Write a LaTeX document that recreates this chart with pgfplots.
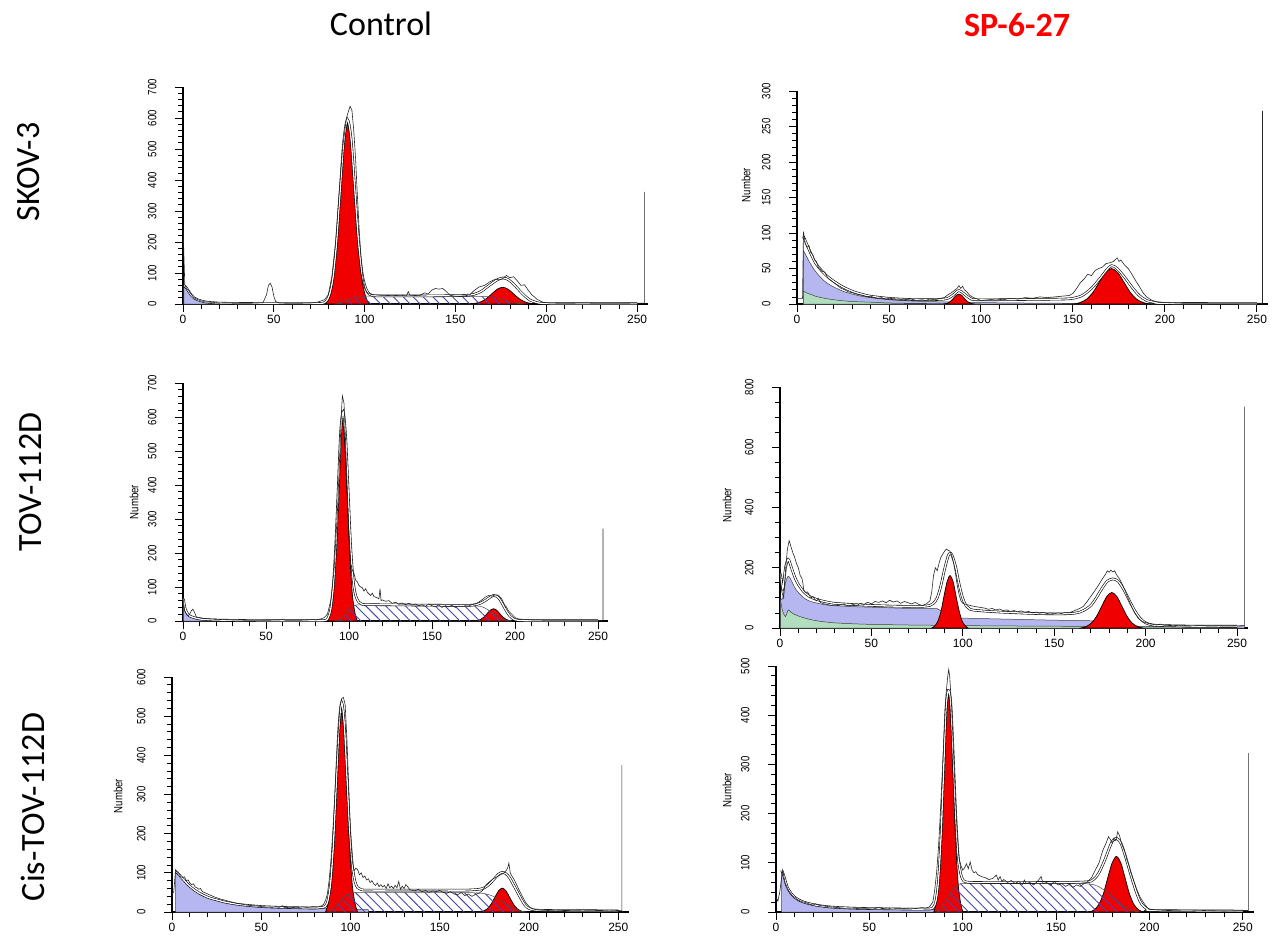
\documentclass[border=0pt]{standalone}
\usepackage{fontspec}
\setmainfont{Liberation Sans}
\newfontfamily\carl{Carlito}
\newfontfamily\narrow{Liberation Sans}[FakeStretch=0.8]
\usepackage{pgfplots}
\pgfplotsset{compat=1.18}
\usetikzlibrary{patterns.meta}

\definecolor{lav}{RGB}{182,182,240}
\definecolor{agg}{RGB}{176,222,190}
\definecolor{pk}{RGB}{240,0,0}
\definecolor{hat}{RGB}{70,70,170}

\pgfplotsset{
  fcm/.style={
    scale only axis, clip=false,
    xmin=0, xmax=256, ymin=0,
    axis lines*=left, axis line style={black, line width=1.2pt},
    tick pos=left, tick align=outside,
    xtick={0,50,...,250}, minor x tick num=4,
    major tick length=8pt, minor tick length=5pt,
    major tick style={black, line width=1pt},
    minor tick style={black, line width=0.8pt},
    /pgf/number format/assume math mode=true,
    scaled y ticks=false,
    xticklabel style={font=\fontsize{12}{12}\selectfont},
    yticklabel style={font=\narrow\fontsize{12}{12}\selectfont,
                      rotate=90, anchor=south, yshift=15pt},
  },
  deb/.style={fill=lav, draw=black!75, line width=0.5pt, smooth, tension=0.5},
  agr/.style={fill=agg, draw=black!75, line width=0.5pt, smooth, tension=0.5},
  pkf/.style={fill=pk, draw=black, line width=0.7pt, smooth, tension=0.5},
  sph/.style={draw=black!70, line width=0.5pt, smooth, tension=0.5,
              pattern={Lines[angle=-45,distance=7pt,line width=0.9pt]},
              pattern color=hat},
  fit/.style={black, line width=0.6pt, double=white, double distance=1.3pt,
              smooth, tension=0.5},
  raw/.style={black!85, line width=0.6pt},
}

\newcommand{\numlab}[1]{\node[font=\narrow\fontsize{12}{12}\selectfont, rotate=90] at (#1) {Number};}

\begin{document}
\begin{tikzpicture}
\path[use as bounding box] (0pt,0pt) rectangle (1272pt,-943pt);

% titles
\node[font=\carl\fontsize{34}{34}\selectfont] at (381pt,-24pt) {Control};
\node[font=\carl\bfseries\fontsize{34}{34}\selectfont, text=red] at (1017pt,-25pt) {SP-6-27};
\node[font=\carl\fontsize{34}{34}\selectfont, rotate=90] at (29pt,-172pt) {SKOV-3};
\node[font=\carl\fontsize{34}{34}\selectfont, rotate=90] at (31pt,-482pt) {TOV-112D};
\node[font=\carl\fontsize{34}{34}\selectfont, rotate=90] at (33pt,-807pt) {Cis-TOV-112D};

% ---------------- SKOV-3, control
\begin{axis}[fcm, at={(183pt,-304pt)}, anchor=south west,
  width=465pt, height=217pt, ymax=700, ytick={0,100,...,700}, minor y tick num=4]
\addplot[deb] coordinates {(0.5,55)(1.5,52)(3,40)(4.5,28)(6,19)(8,13)(10,9)(12,7)(15,5)(20,3)(25,2)(30,1.5)(40,1)(60,0.5)(80,0.3)} \closedcycle;
\addplot[pkf] coordinates {(78.5,0)(80.5,25)(82.5,78)(84.5,188)(86.5,352)(88.5,512)(90.5,580)(92.5,512)(94.5,352)(96.5,188)(98.5,78)(100.5,25)(102.5,0)} \closedcycle;
\addplot[pkf] coordinates {(158,0)(161,2.4)(164,7.3)(167,17.5)(170,32.8)(173,47.7)(176,54)(179,47.7)(182,32.8)(185,17.5)(188,7.3)(191,2.4)(194,0)} \closedcycle;
\addplot[sph] coordinates {(84,0)(88,6)(91,14)(94,21)(97,24)(100,25)(130,25)(160,24.5)(168,24)(172,21)(176,15)(180,8)(184,3)(188,0)} \closedcycle;
\addplot[fit] coordinates {(0.5,60)(1.5,55)(3,42)(4.5,29)(6,20)(8,14)(10,10)(12,7)(15,5)(20,3)(30,2)(45,1.5)(70,1.5)(76,2)(78.5,7)(80.5,27)(82.5,82)(84.5,195)(86.5,362)(88.5,525)(90.5,595)(92.5,535)(94.5,375)(96.5,212)(98.5,102)(100.5,52)(102.5,32)(104.5,27)(110,26)(130,26)(150,27)(156,28)(160,31)(164,40)(167,53)(170,66)(173,78)(176,84)(179,79)(182,64)(185,45)(188,27)(191,13)(194,6)(198,2)(210,1)(250,1)};
\addplot[raw] coordinates {(0,255)(1,60)(2,50)(3,45)(4,35)(5,28)(6,20)(8,14)(10,10)(12,7)(14,6)(17,5)(20,3)(25,3)(30,2)(35,2)(40,3)(44,4)(46,30)(47,60)(48,67)(49,55)(50,25)(51,8)(53,3)(60,2)(70,3)(74,6)(76,10)(78,14)(80,30)(82,90)(84,200)(86,360)(88,510)(90,600)(91,620)(92,638)(93,625)(94,560)(95,470)(96,350)(97,240)(98,150)(99,90)(100,55)(101,40)(102,35)(104,30)(110,28)(115,27)(120,28)(123,26)(124,40)(125,28)(130,27)(133,36)(135,32)(137,45)(139,50)(141,48)(143,50)(145,40)(147,28)(150,25)(155,26)(158,30)(160,42)(163,55)(166,60)(169,72)(172,80)(174,78)(176,82)(178,92)(180,85)(182,88)(184,75)(186,60)(188,62)(190,45)(192,30)(195,15)(198,6)(202,3)(210,2)(220,3)(230,2)(240,2)(250,3)(254,3)(254,362)};
\end{axis}

% ---------------- SKOV-3, SP-6-27
\begin{axis}[fcm, at={(797pt,-304pt)}, anchor=south west,
  width=471pt, height=213pt, ymax=300, ytick={0,50,...,300}, minor y tick num=4]
\addplot[deb] coordinates {(3.5,75)(5,68)(7,58)(10,46)(13,37)(16,30)(20,24)(25,18)(30,14)(35,11)(40,9)(50,6)(60,4.5)(70,3.5)(80,3)(100,2)(150,1)(250,0.5)} \closedcycle;
\addplot[agr] coordinates {(3.5,18)(5,16)(8,13)(10,11)(15,8)(20,6)(25,4.5)(30,3.5)(40,2.5)(50,1.5)(60,1)(80,0.5)(100,0.2)} \closedcycle;
\addplot[pkf] coordinates {(79.6,0)(81,0.6)(82.4,1.9)(83.8,4.5)(85.2,8.5)(86.6,12.4)(88,14)(89.4,12.4)(90.8,8.5)(92.2,4.5)(93.6,1.9)(95,0.6)(96.4,0)} \closedcycle;
\addplot[pkf] coordinates {(150.6,0)(154,2.2)(157.4,6.8)(160.8,16.2)(164.2,30.3)(167.6,44.1)(171,50)(174.4,44.1)(177.8,30.3)(181.2,16.2)(184.6,6.8)(188,2.2)(191.4,0)} \closedcycle;
\addplot[fit] coordinates {(3.5,95)(5,86)(7,74)(10,58)(13,48)(16,40)(20,32)(25,24)(30,18)(35,14)(40,11)(50,8)(60,6.5)(70,6)(78,6.5)(82,8)(85,13)(88,19)(91,14)(94,8)(97,6)(110,6)(130,6.5)(145,7)(150,8)(155,12)(160,22)(165,37)(168,47)(171,54)(174,50)(178,38)(182,24)(186,12)(190,5)(195,2)(200,1)(250,0.5)};
\addplot[raw] coordinates {(0,8)(3,8)(3.5,102)(4.5,85)(5.5,80)(6.5,82)(7.5,72)(8.5,70)(9.5,62)(10.5,60)(11.5,52)(12.5,50)(13.5,46)(15,45)(16,40)(17,36)(18,34)(20,30)(22,26)(24,22)(26,20)(28,17)(30,16)(32,14)(34,13)(36,12)(38,10)(40,11)(42,9)(44,8)(46,9)(48,7)(50,8)(55,7)(58,6)(62,7)(65,5)(68,6)(70,5)(72,7)(75,6)(78,8)(80,9)(82,13)(84,16)(86,20)(87,22)(88,26)(89,22)(90,25)(91,20)(92,18)(94,12)(96,9)(98,7)(100,5)(104,6)(108,7)(112,6)(116,8)(120,7)(124,9)(128,8)(132,10)(136,9)(140,10)(144,11)(148,12)(150,15)(152,22)(154,30)(156,35)(158,42)(160,40)(162,47)(164,50)(166,52)(168,57)(170,58)(172,60)(174,65)(175,60)(176,62)(178,55)(180,50)(182,42)(184,33)(186,25)(188,16)(190,10)(193,5)(196,3)(200,2)(210,1)(220,1)(230,1)(240,1)(250,1)(253,1)(253,272)};
\end{axis}
\numlab{746pt,-185pt}

% ---------------- TOV-112D, control
\begin{axis}[fcm, at={(183pt,-621pt)}, anchor=south west,
  width=425pt, height=238pt, ymax=700, ytick={0,100,...,700}, minor y tick num=4]
\addplot[deb] coordinates {(0.3,60)(1,40)(2,25)(3,18)(4,14)(6,10)(8,8)(10,6)(15,4)(20,3)(30,2)(50,1)(80,0.5)} \closedcycle;
\addplot[pkf] coordinates {(87,0)(88.5,25.7)(90,79)(91.5,190)(93,355)(94.5,516)(96,585)(97.5,516)(99,355)(100.5,190)(102,79)(103.5,25.7)(105,0)} \closedcycle;
\addplot[pkf] coordinates {(175.6,0)(177.5,1.6)(179.4,4.9)(181.3,11.7)(183.2,21.8)(185.1,31.8)(187,36)(188.9,31.8)(190.8,21.8)(192.7,11.7)(194.6,4.9)(196.5,1.6)(198.4,0)} \closedcycle;
\addplot[sph] coordinates {(92,0)(95,6)(98,22)(100,35)(102,43)(104,47)(110,47)(140,46)(170,45)(178,44)(182,38)(186,25)(190,12)(194,4)(198,0)} \closedcycle;
\addplot[fit] coordinates {(0.3,65)(1,42)(2,27)(3,20)(4,15)(6,11)(8,8)(10,6)(15,4)(20,3)(30,2)(50,1)(80,1)(86,2)(87.5,10)(89,35)(90.5,100)(92,220)(93.5,390)(95,560)(96.5,615)(98,540)(99.5,380)(101,220)(102.5,120)(104,75)(106,55)(108,49)(115,48)(140,47)(170,46)(176,48)(179,52)(182,60)(185,70)(187,75)(189,73)(191,62)(193,45)(195,28)(197,14)(199,6)(202,2)(210,1)(250,1)};
\addplot[raw] coordinates {(0,70)(0.5,50)(1,30)(2,20)(3,15)(4,20)(5,30)(6,35)(7,25)(8,12)(10,10)(12,8)(14,7)(16,6)(20,5)(25,4)(30,3)(40,2)(50,2)(58,3)(60,4)(62,2)(70,2)(75,3)(78,5)(80,3)(83,6)(85,10)(87,20)(89,60)(91,150)(93,320)(94.5,500)(95.5,620)(96,662)(97,640)(98,520)(99,380)(100,250)(101,170)(102,150)(103,140)(104,120)(105,115)(106,105)(107,100)(108,98)(109,88)(110,95)(111,85)(112,80)(113,75)(114,82)(115,72)(116,70)(117,68)(118,65)(118.7,95)(119.3,60)(120,62)(122,58)(124,60)(126,52)(128,55)(130,50)(132,53)(134,48)(136,52)(138,47)(140,50)(142,45)(144,48)(146,43)(148,50)(150,45)(152,42)(154,47)(156,40)(158,45)(160,42)(162,46)(164,40)(166,44)(168,42)(170,45)(172,44)(174,48)(176,50)(178,55)(180,62)(182,70)(184,75)(186,73)(188,77)(190,76)(191,70)(192,65)(193,55)(194,45)(195,40)(196,30)(198,20)(200,10)(202,6)(205,5)(210,3)(220,2)(230,2)(240,2)(250,2)(253,2)(253,272)};
\end{axis}
\numlab{134pt,-502pt}

% ---------------- TOV-112D, SP-6-27
\begin{axis}[fcm, at={(780pt,-628pt)}, anchor=south west,
  width=468pt, height=241pt, ymax=800, ytick={0,200,...,800}, minor y tick num=3]
\addplot[deb] coordinates {(0.3,95)(1.5,100)(3,150)(4.5,172)(6,160)(8,135)(10,118)(13,100)(16,90)(20,83)(25,77)(30,74)(40,71)(50,69)(60,67)(70,65)(80,65)(86,64)(88,58)(90,48)(92,40)(95,35)(100,33)(120,30)(150,26)(170,24)(178,20)(185,10)(195,6)(210,5)(240,5)(250,6)(254,8)} \closedcycle;
\addplot[agr] coordinates {(0.3,90)(1.5,55)(3,38)(4.5,60)(6,52)(8,45)(10,40)(13,34)(16,29)(20,24)(25,20)(30,17)(40,14)(50,12)(60,11)(70,10)(85,9)(100,8)(120,7)(150,6)(175,5)(200,4)(230,3)(250,2)} \closedcycle;
\addplot[pkf] coordinates {(83.1,0)(84.8,7.6)(86.4,23.5)(88.1,56.5)(89.7,105.5)(91.4,153.6)(93,174)(94.7,153.6)(96.3,105.5)(98,56.5)(99.6,23.5)(101.3,7.6)(102.9,0)} \closedcycle;
\addplot[pkf] coordinates {(164.7,0)(167.5,5.2)(170.3,16)(173.1,38.3)(175.9,71.6)(178.7,104.1)(181.5,118)(184.3,104.1)(187.1,71.6)(189.9,38.3)(192.7,16)(195.5,5.2)(198.3,0)} \closedcycle;
\addplot[fit] coordinates {(0.3,180)(1.5,130)(3,200)(4.5,228)(6,205)(8,170)(10,145)(13,120)(16,105)(20,95)(25,87)(30,82)(40,78)(50,75)(60,73)(70,72)(78,72)(82,75)(84,82)(86,100)(88,140)(90,195)(92,240)(93,247)(94,243)(96,205)(98,145)(100,98)(102,72)(104,62)(108,58)(120,53)(140,48)(155,47)(162,50)(166,58)(170,75)(173,100)(176,130)(179,155)(182,163)(185,155)(188,128)(191,92)(194,58)(197,32)(200,17)(204,10)(210,8)(230,6)(250,6)};
\addplot[raw] coordinates {(0,260)(0.5,150)(1,120)(2,100)(3,190)(4,260)(5,290)(6,270)(7,250)(8,235)(9,215)(10,200)(11,175)(12,165)(12.5,150)(13,125)(14,118)(15,120)(16,110)(17,100)(18,105)(19,95)(20,90)(21,98)(22,85)(24,80)(26,78)(28,75)(30,76)(32,74)(34,80)(36,76)(38,73)(40,78)(42,75)(44,82)(46,78)(48,86)(50,80)(52,88)(54,85)(56,90)(58,84)(60,92)(62,86)(64,90)(66,82)(68,88)(70,84)(72,80)(74,85)(76,78)(78,75)(80,80)(82,90)(83,120)(84,175)(85,200)(86,190)(87,215)(88,235)(89,245)(90,255)(91,262)(92,258)(93,255)(94,240)(95,215)(96,180)(97,140)(98,110)(99,90)(100,82)(102,78)(104,75)(106,72)(108,70)(110,68)(112,66)(114,62)(116,65)(118,60)(120,63)(122,58)(124,60)(126,55)(128,58)(130,54)(132,57)(134,52)(136,55)(138,50)(140,53)(142,49)(144,52)(146,48)(148,50)(150,47)(152,50)(154,48)(156,52)(158,50)(160,55)(162,60)(164,65)(166,72)(168,88)(170,105)(172,122)(174,140)(176,160)(178,178)(179,190)(180,185)(181,192)(182,186)(183,190)(184,178)(186,160)(188,135)(190,105)(192,75)(194,50)(196,32)(198,22)(200,18)(202,14)(204,12)(206,10)(208,13)(210,9)(215,8)(220,9)(225,7)(230,8)(235,6)(240,7)(245,6)(250,7)(254,8)(254,735)};
\end{axis}
\numlab{727pt,-505pt}

% ---------------- Cis-TOV-112D, control
\begin{axis}[fcm, at={(172pt,-912pt)}, anchor=south west,
  width=457pt, height=235pt, ymax=600, ytick={0,100,...,600}, minor y tick num=4]
\addplot[deb] coordinates {(2,102)(3,98)(5,88)(7,78)(9,68)(11,60)(13,53)(15,47)(18,40)(21,35)(25,30)(30,24)(35,20)(40,17)(45,15)(50,13)(60,11)(70,10)(80,9)(90,8)(100,7)(110,6)} \closedcycle;
\addplot[pkf] coordinates {(86,0)(87.5,22.3)(89,68.7)(90.5,165)(92,308)(93.5,448)(95,508)(96.5,448)(98,308)(99.5,165)(101,68.7)(102.5,22.3)(104,0)} \closedcycle;
\addplot[pkf] coordinates {(172.4,0)(174.5,2.7)(176.6,8.2)(178.7,19.8)(180.8,37)(182.9,53.8)(185,61)(187.1,53.8)(189.2,37)(191.3,19.8)(193.4,8.2)(195.5,2.7)(197.6,0)} \closedcycle;
\addplot[sph] coordinates {(88,0)(91,10)(94,25)(97,40)(100,48)(104,50)(120,50)(150,50)(170,49)(176,46)(180,40)(184,30)(188,18)(192,8)(196,2)(199,0)} \closedcycle;
\addplot[fit] coordinates {(2,104)(3,100)(5,90)(7,80)(9,70)(11,62)(13,55)(15,49)(18,42)(21,36)(25,31)(30,25)(35,21)(40,18)(50,14)(60,12)(70,11)(80,10)(84,12)(86,15)(87.5,32)(89,80)(90.5,180)(92,325)(93.5,470)(95,535)(96.5,480)(98,345)(99.5,210)(101,120)(102.5,78)(104,62)(106,57)(110,56)(130,56)(150,56)(165,56)(172,58)(175,62)(178,72)(181,87)(183,97)(185,101)(187,98)(189,88)(191,72)(193,55)(195,38)(197,22)(199,12)(202,6)(210,4)(250,3)};
\addplot[raw] coordinates {(0,45)(1,52)(2,108)(3,100)(4,96)(5,90)(6,88)(7,90)(8,80)(9,82)(10,74)(11,70)(12,72)(13,64)(14,62)(15,58)(16,60)(17,52)(18,50)(20,46)(22,42)(24,38)(26,35)(28,32)(30,30)(32,27)(34,25)(36,22)(38,21)(40,19)(43,17)(46,16)(50,14)(53,13)(56,12)(58,13)(60,12)(62,16)(63,11)(66,12)(70,11)(73,13)(76,12)(79,14)(82,13)(84,16)(85,20)(86,30)(87,45)(88,80)(89,130)(90,200)(91,280)(92,370)(93,450)(94,520)(95,545)(96,548)(97,530)(98,440)(99,320)(100,200)(101,130)(102,105)(103,112)(104,108)(105,95)(106,100)(107,88)(108,92)(109,82)(110,85)(111,75)(112,80)(113,72)(114,68)(115,74)(116,65)(117,70)(118,64)(119,68)(120,60)(121,72)(122,62)(123,66)(124,60)(125,68)(126,62)(127,78)(128,58)(129,66)(130,60)(131,70)(132,65)(133,58)(134,56)(136,54)(138,58)(140,52)(142,55)(144,50)(146,54)(148,52)(150,55)(152,50)(154,48)(156,52)(158,46)(160,44)(162,50)(164,42)(166,46)(168,40)(170,45)(172,48)(174,55)(176,70)(178,78)(180,85)(182,90)(184,95)(186,100)(187,105)(188,112)(188.7,125)(189.5,100)(190,95)(192,80)(194,60)(196,42)(198,25)(200,14)(202,8)(205,5)(210,4)(215,3)(220,4)(230,3)(240,4)(245,3)(250,4)(252,3)(252,375)};
\end{axis}
\numlab{118pt,-796pt}

% ---------------- Cis-TOV-112D, SP-6-27
\begin{axis}[fcm, at={(776pt,-912pt)}, anchor=south west,
  width=478pt, height=246pt, ymax=500, ytick={0,100,...,500}, minor y tick num=4]
\addplot[deb] coordinates {(3,80)(4,72)(5,60)(6,48)(8,36)(10,29)(12,24)(15,19)(20,14)(25,11)(30,9)(40,7)(50,6)(60,5.5)(70,5)(80,5)(90,4)(100,3)} \closedcycle;
\addplot[pkf] coordinates {(84.5,0)(85.8,19.3)(87.1,59.5)(88.4,143)(89.7,267)(91,388)(92.3,440)(93.6,388)(94.9,267)(96.2,143)(97.5,59.5)(98.8,19.3)(100.1,0)} \closedcycle;
\addplot[pkf] coordinates {(168.2,0)(170.6,5)(172.9,15.3)(175.3,36.7)(177.6,68.5)(180,99.7)(182.3,113)(184.7,99.7)(187,68.5)(189.3,36.7)(191.7,15.3)(194,5)(196.4,0)} \closedcycle;
\addplot[sph] coordinates {(86,0)(89,12)(92,30)(95,48)(98,56)(102,58)(130,58)(160,58)(168,57)(172,53)(176,44)(180,32)(184,18)(188,8)(192,2)(195,0)} \closedcycle;
\addplot[fit] coordinates {(3,85)(4,76)(5,63)(6,51)(8,38)(10,30)(12,25)(15,20)(20,15)(25,12)(30,10)(40,8)(50,7)(60,6.5)(70,6)(80,6)(84,8)(85.8,25)(87.1,68)(88.4,155)(89.7,282)(91,410)(92.3,450)(93.6,425)(94.9,320)(96.2,200)(97.5,115)(98.8,80)(100,66)(102,61)(110,60)(140,60)(165,61)(170,66)(173,80)(176,105)(178,125)(180,143)(182.3,150)(184.7,140)(187,115)(189.3,85)(191.7,55)(194,30)(196,15)(199,6)(203,3)(250,2)};
\addplot[raw] coordinates {(0,30)(1,22)(2,40)(3,70)(3.6,85)(4.3,70)(5,58)(6,50)(7,42)(8,37)(9,32)(10,30)(11,27)(12,24)(14,21)(16,19)(18,16)(20,14)(21,17)(22,15)(24,13)(26,12)(28,11)(30,10)(33,9)(36,8)(40,8)(44,7)(48,7)(52,6)(55,9)(57,7)(60,8)(62,6)(65,7)(68,7)(72,8)(75,7)(78,9)(80,8)(82,10)(84,20)(85,45)(86,80)(87,130)(88,200)(89,280)(90,360)(91,440)(92,480)(92.5,493)(93,480)(94,420)(95,330)(96,240)(97,160)(98,110)(99,95)(100,85)(101,90)(102,98)(103,88)(104,102)(105,85)(106,80)(107,82)(108,76)(110,72)(112,70)(114,66)(116,68)(118,75)(119,65)(120,72)(121,62)(122,66)(124,60)(126,64)(128,58)(130,62)(132,56)(133,65)(134,58)(136,60)(138,55)(140,62)(142,72)(143,58)(145,60)(147,54)(149,62)(151,55)(153,58)(155,52)(157,56)(159,50)(161,55)(163,52)(165,58)(167,62)(169,70)(171,85)(173,100)(175,125)(177,142)(178,153)(179,148)(180,140)(181,150)(182,145)(183,163)(184,155)(185,140)(186,130)(187,120)(188,105)(189,95)(190,80)(191,70)(193,48)(195,30)(197,18)(199,8)(201,5)(205,4)(210,3)(220,4)(230,3)(240,2)(250,3)(253,3)(253,323)};
\end{axis}
\numlab{727pt,-790pt}
\end{tikzpicture}
\end{document}
